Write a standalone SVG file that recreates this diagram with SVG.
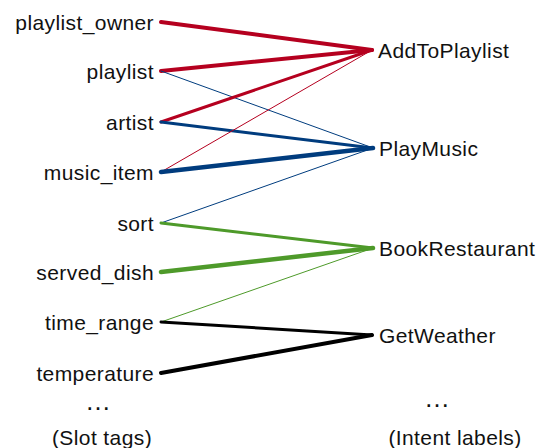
<svg xmlns="http://www.w3.org/2000/svg" width="541" height="448" viewBox="0 0 541 448">
<style>
text{font-family:"Liberation Sans",Arial,sans-serif;font-size:21px;fill:#111;letter-spacing:0.4px}
.slot{text-anchor:end}
.dots{font-size:26px;letter-spacing:0;text-anchor:middle}
.c line{stroke-linecap:round;fill:none}
.r{stroke:#b5001f}.b{stroke:#003c7e}.g{stroke:#4e9a2a}.k{stroke:#000}
.w1{stroke-width:1}.w3{stroke-width:3}.w4{stroke-width:4}.w5{stroke-width:4.5}
</style>
<rect width="541" height="448" fill="#fff"/>
<g id="connectors" class="c">
<line class="r w4" x1="161" y1="22" x2="372" y2="50"/>
<line class="r w4" x1="161" y1="71" x2="372" y2="50"/>
<line class="b w1" x1="161" y1="71" x2="373" y2="148"/>
<line class="r w3" x1="161" y1="122" x2="372" y2="50"/>
<line class="b w3" x1="161" y1="122" x2="373" y2="148"/>
<line class="r w1" x1="161" y1="172" x2="372" y2="50"/>
<line class="b w5" x1="161" y1="172" x2="373" y2="148"/>
<line class="b w1" x1="161" y1="223" x2="373" y2="148"/>
<line class="g w3" x1="161" y1="223" x2="373" y2="248"/>
<line class="g w5" x1="161" y1="272" x2="373" y2="248"/>
<line class="g w1" x1="161" y1="322" x2="373" y2="248"/>
<line class="k w3" x1="161" y1="322" x2="372" y2="335"/>
<line class="k w4" x1="161" y1="373" x2="372" y2="335"/>
</g>
<g id="slot-playlist_owner"><text class="slot" x="154" y="29.5">playlist_owner</text></g>
<g id="slot-playlist"><text class="slot" x="154" y="78.5">playlist</text></g>
<g id="slot-artist"><text class="slot" x="154" y="129.5">artist</text></g>
<g id="slot-music_item"><text class="slot" x="154" y="179.5">music_item</text></g>
<g id="slot-sort"><text class="slot" x="154" y="230.5">sort</text></g>
<g id="slot-served_dish"><text class="slot" x="154" y="279.5">served_dish</text></g>
<g id="slot-time_range"><text class="slot" x="154" y="329.5">time_range</text></g>
<g id="slot-temperature"><text class="slot" x="154" y="380.5">temperature</text></g>
<g id="slot-more"><text class="dots" x="98" y="410">…</text></g>
<g id="slot-caption"><text x="102" y="445" text-anchor="middle">(Slot tags)</text></g>
<g id="intent-AddToPlaylist"><text x="378" y="57.5">AddToPlaylist</text></g>
<g id="intent-PlayMusic"><text x="379" y="155.5">PlayMusic</text></g>
<g id="intent-BookRestaurant"><text x="379" y="255.5">BookRestaurant</text></g>
<g id="intent-GetWeather"><text x="379" y="342.5">GetWeather</text></g>
<g id="intent-more"><text class="dots" x="437" y="407">…</text></g>
<g id="intent-caption"><text x="455" y="445" text-anchor="middle">(Intent labels)</text></g>
</svg>
